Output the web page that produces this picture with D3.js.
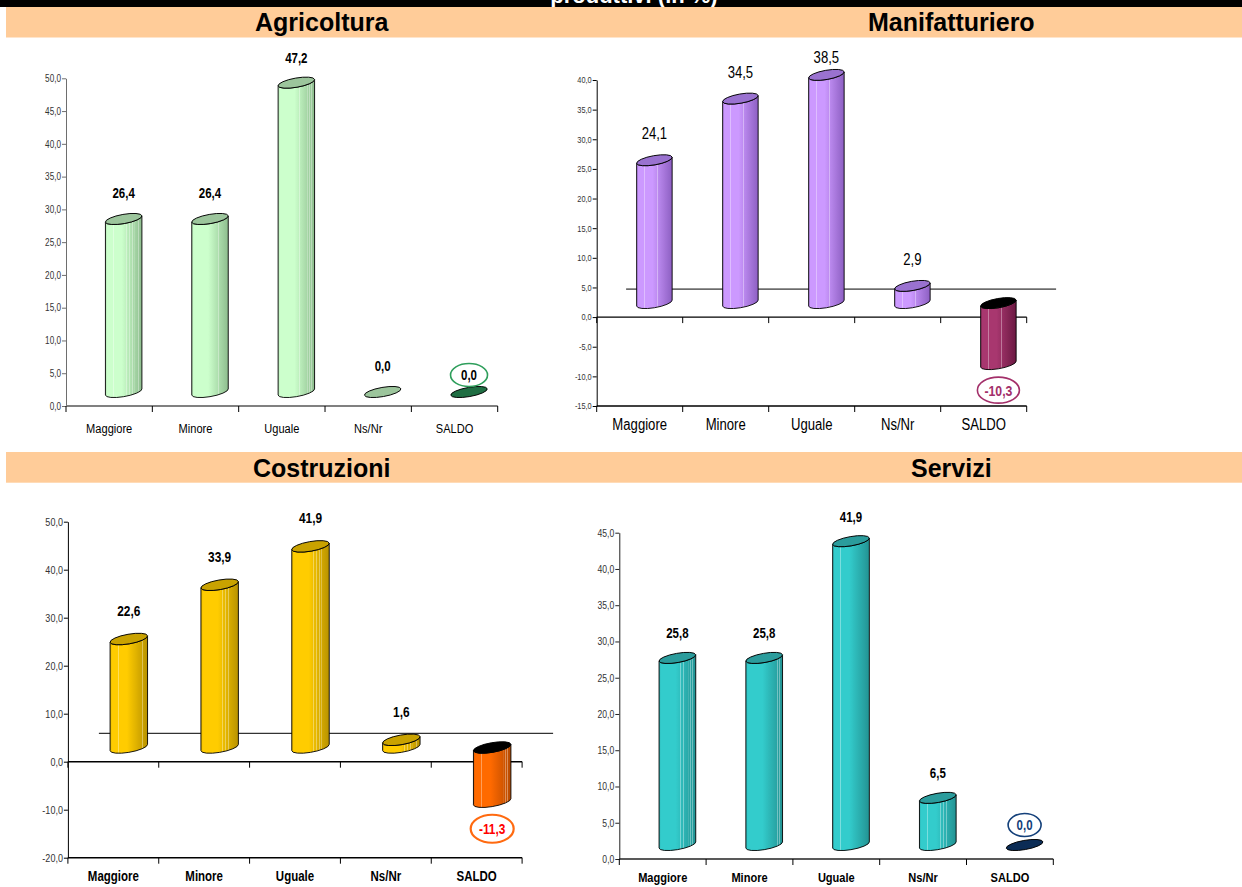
<!DOCTYPE html>
<html>
<head>
<meta charset="utf-8">
<script src="https://cdn.jsdelivr.net/npm/d3@7"></script>
<style>
  html, body { margin: 0; padding: 0; background: #fff; }
  svg { display: block; }
</style>
</head>
<body>
<svg id="chart" width="1242" height="887"></svg>
<script>
// ---- data ----
const categories = ["Maggiore", "Minore", "Uguale", "Ns/Nr", "SALDO"];
const sectorTitles = ["Agricoltura", "Manifatturiero", "Costruzioni", "Servizi"];
const agricoltura = [26.4, 26.4, 47.2, 0.0, 0.0];
const manifatturiero = [24.1, 34.5, 38.5, 2.9, -10.3];
const costruzioni = [22.6, 33.9, 41.9, 1.6, -11.3];
const servizi = [25.8, 25.8, 41.9, 6.5, 0.0];
const ticksAgricoltura = [0, 5, 10, 15, 20, 25, 30, 35, 40, 45, 50];
const ticksManifatturiero = [-15, -10, -5, 0, 5, 10, 15, 20, 25, 30, 35, 40];
const ticksCostruzioni = [-20, -10, 0, 10, 20, 30, 40, 50];
const ticksServizi = [0, 5, 10, 15, 20, 25, 30, 35, 40, 45];
const headerText = "produttivi (in %)";

// ---- fonts & helpers ----
const FONT = "'Liberation Sans', Arial, Helvetica, sans-serif";
const SQUEEZE = 0.82; // condensed look for chart labels
const fmt = v => d3.format(".1f")(v).replace(".", ",").replace("−", "-");

// squeeze text horizontally while keeping its anchor position
function condense(sel) {
  sel.each(function () {
    const t = d3.select(this);
    const x = +t.attr("x") || 0;
    t.attr("x", x / SQUEEZE).attr("transform", `scale(${SQUEEZE},1)`);
  });
  return sel;
}

const svg = d3.select("#chart");
const defs = svg.append("defs");
svg.append("rect").attr("width", 1242).attr("height", 887).attr("fill", "#fff");

// ---- header bands ----
svg.append("rect").attr("x", 0).attr("y", 0).attr("width", 1242).attr("height", 7).attr("fill", "#000");
svg.append("text").attr("x", 634).attr("y", 3)
  .attr("text-anchor", "middle").attr("font-family", FONT).attr("font-weight", "bold")
  .attr("font-size", 22).attr("fill", "#fff").text(headerText);

const bands = [
  { y: 7, h: 30.5, titles: [0, 1], baseline: 30.7 },
  { y: 452, h: 30.7, titles: [2, 3], baseline: 476.7 }
];
const titleX = [321.7, 951.3];
bands.forEach(b => {
  svg.append("rect").attr("x", 6).attr("y", b.y).attr("width", 1236).attr("height", b.h).attr("fill", "#ffcc99");
  b.titles.forEach((ti, k) => {
    svg.append("text").attr("x", titleX[k]).attr("y", b.baseline)
      .attr("text-anchor", "middle").attr("font-family", FONT).attr("font-weight", "bold")
      .attr("font-size", 25).attr("fill", "#000").text(sectorTitles[ti]);
  });
});

// ---- cylinder gradients ----
let gradCount = 0;
function bodyGradient(light, dark) {
  const id = "cyl" + (gradCount++);
  const base = t => {
    if (t < 0.04) return d3.interpolateRgb(dark, light)(0.55 + t / 0.04 * 0.45);
    if (t < 0.45) return d3.color(light).formatHex();
    return d3.interpolateRgb(light, dark)((t - 0.45) / 0.55);
  };
  const stripes = [0.22, 0.58, 0.66, 0.74, 0.8, 0.86, 0.91];
  const stops = [];
  d3.range(0, 1.0001, 0.05).forEach(t => stops.push([t, base(t)]));
  stripes.forEach(p => {
    const w = 0.008;
    const hi = d3.interpolateRgb(base(p), "#ffffff")(0.35);
    stops.push([p - w, base(p - w)], [p - w + 0.0001, hi], [p + w, hi], [p + w + 0.0001, base(p + w)]);
  });
  stops.sort((a, b) => a[0] - b[0]);
  const lg = defs.append("linearGradient").attr("id", id)
    .attr("x1", 0).attr("x2", 1).attr("y1", 0).attr("y2", 0);
  stops.forEach(s => lg.append("stop").attr("offset", s[0]).attr("stop-color", s[1]));
  return "url(#" + id + ")";
}

// extreme left/right points of a rotated ellipse
function ellipseExtremes(rx, ry, deg) {
  const a = deg * Math.PI / 180;
  let L = null, R = null;
  for (let i = 0; i < 720; i++) {
    const t = i / 720 * 2 * Math.PI;
    const px = rx * Math.cos(t), py = ry * Math.sin(t);
    const p = { x: px * Math.cos(a) - py * Math.sin(a), y: px * Math.sin(a) + py * Math.cos(a) };
    if (!L || p.x < L.x) L = p;
    if (!R || p.x > R.x) R = p;
  }
  return { L, R };
}

function cylinder(g, cx, yTopC, yBotC, st, bodyFill, topFill) {
  const { rx, ry, rot } = st;
  const { L, R } = ellipseExtremes(rx, ry, rot);
  if (yBotC - yTopC > 0.5) {
    const d = `M${cx + L.x},${yTopC + L.y} L${cx + L.x},${yBotC + L.y} ` +
      `A${rx},${ry} ${rot} 0 0 ${cx + R.x},${yBotC + R.y} ` +
      `L${cx + R.x},${yTopC + R.y} ` +
      `A${rx},${ry} ${rot} 0 1 ${cx + L.x},${yTopC + L.y} Z`;
    g.append("path").attr("d", d).attr("fill", bodyFill)
      .attr("stroke", "#000").attr("stroke-width", 0.9).attr("stroke-linejoin", "round");
  }
  g.append("ellipse").attr("cx", 0).attr("cy", 0).attr("rx", rx).attr("ry", ry)
    .attr("transform", `translate(${cx},${yTopC}) rotate(${rot})`)
    .attr("fill", topFill).attr("stroke", "#000").attr("stroke-width", 0.9);
}

// ---- panel layout & styles ----
const panels = [
  {
    values: agricoltura, ticks: ticksAgricoltura, domain: [0, 50],
    x0: 66, x1: 497.7, yMin: 406, yMax: 78.3,
    axisColor: "#808080", axisWidth: 2, yAxisColor: "#6e6e6e",
    tickFont: 10, catFont: 13.5, catWeight: "normal", catBaseline: 433.3,
    valFont: 14, valWeight: "bold", labelGap: 21, labelTop: 63,
    depth: { dx: 14.5, dy: 14 }, backLine: false,
    cyl: { rx: 18.5, ry: 4.6, rot: -10 },
    light: "#ccffcc", dark: "#8ebd8e", top: "#9cc59c",
    saldo: { light: "#1f6e43", dark: "#1f6e43", top: "#1f6e43", ring: "#2e9e5b", text: "#000", ringRx: 18.5, ringRy: 11.5, ringGap: 17, ringWidth: 1.6 }
  },
  {
    values: manifatturiero, ticks: ticksManifatturiero, domain: [-15, 40],
    x0: 596.7, x1: 1026.7, yMin: 406, yMax: 80,
    axisColor: "#000", axisWidth: 1.4, yAxisColor: "#000",
    tickFont: 9, catFont: 16, catWeight: "normal", catBaseline: 430,
    valFont: 16, valWeight: "normal", labelGap: 21, labelTop: 63.3,
    depth: { dx: 14.7, dy: 14 }, backLine: true,
    cyl: { rx: 18, ry: 4.6, rot: -10 },
    light: "#cc99ff", dark: "#8d5fc2", top: "#9a72d0",
    saldo: { light: "#a8376f", dark: "#6b1942", top: "#000", ring: "#a3306a", text: "#a3306a", ringRx: 21, ringRy: 13, ringGap: 26, ringWidth: 1.6 }
  },
  {
    values: costruzioni, ticks: ticksCostruzioni, domain: [-20, 50],
    x0: 67.9, x1: 522.1, yMin: 857.7, yMax: 521.7,
    axisColor: "#000", axisWidth: 1.4, yAxisColor: "#000",
    tickFont: 11, catFont: 14, catWeight: "bold", catBaseline: 880.7,
    valFont: 14.5, valWeight: "bold", labelGap: 23, labelTop: 523,
    depth: { dx: 15.5, dy: 14.2 }, backLine: true,
    cyl: { rx: 19, ry: 4.8, rot: -10 },
    light: "#ffcc00", dark: "#b89200", top: "#c9a200",
    saldo: { light: "#ff6a00", dark: "#b84a00", top: "#000", ring: "#ff6a10", text: "#ff0000", ringRx: 21.5, ringRy: 14, ringGap: 27, ringWidth: 2.2 }
  },
  {
    values: servizi, ticks: ticksServizi, domain: [0, 45],
    x0: 619.3, x1: 1053.3, yMin: 859, yMax: 532.7,
    axisColor: "#222", axisWidth: 1.4, yAxisColor: "#222",
    tickFont: 10.5, catFont: 13.5, catWeight: "bold", catBaseline: 881.7,
    valFont: 14, valWeight: "bold", labelGap: 20, labelTop: 522,
    depth: { dx: 14.7, dy: 14 }, backLine: false,
    cyl: { rx: 18.6, ry: 4.6, rot: -10 },
    light: "#33cccc", dark: "#239393", top: "#2b9c9c",
    saldo: { light: "#0b2c55", dark: "#0b2c55", top: "#0b2c55", ring: "#14407a", text: "#14407a", ringRx: 16.5, ringRy: 11.5, ringGap: 20, ringWidth: 1.6 }
  }
];

function drawPanel(P) {
  const g = svg.append("g");
  const x = d3.scaleBand().domain(categories).range([P.x0, P.x1]).padding(0);
  const y = d3.scaleLinear().domain(P.domain).range([P.yMin, P.yMax]);
  const { dx, dy } = P.depth;

  // floor back edge
  if (P.backLine) {
    g.append("line").attr("x1", P.x0 + 2 * dx).attr("x2", P.x1 + 2 * dx)
      .attr("y1", y(0) - 2 * dy).attr("y2", y(0) - 2 * dy)
      .attr("stroke", "#000").attr("stroke-width", 1);
  }

  // value axis
  const yAxis = d3.axisLeft(y).tickValues(P.ticks).tickFormat(fmt).tickSize(4).tickSizeOuter(0).tickPadding(1);
  const ya = g.append("g").attr("transform", `translate(${P.x0},0)`).call(yAxis);
  ya.select(".domain").attr("stroke", P.yAxisColor).attr("stroke-width", 1);
  ya.selectAll(".tick line").attr("stroke", P.yAxisColor);
  condense(ya.selectAll(".tick text").attr("font-family", FONT).attr("font-size", P.tickFont).attr("fill", "#333"));

  // category axis lines (at zero and at the bottom of the range)
  const boundaries = categories.map(c => x(c)).concat([P.x1]);
  const axisLevels = [0];
  if (P.domain[0] < 0) axisLevels.push(P.domain[0]);
  axisLevels.forEach(v => {
    g.append("line").attr("x1", P.x0).attr("x2", P.x1).attr("y1", y(v)).attr("y2", y(v))
      .attr("stroke", v === 0 && P.domain[0] === 0 ? P.axisColor : "#000")
      .attr("stroke-width", P.axisWidth);
    g.selectAll(null).data(boundaries).enter().append("line")
      .attr("x1", d => d).attr("x2", d => d)
      .attr("y1", y(v)).attr("y2", y(v) + 6)
      .attr("stroke", "#000").attr("stroke-width", 1);
  });

  // category labels
  const xa = d3.axisBottom(x).tickSize(0).tickPadding(0);
  const xg = g.append("g").attr("transform", `translate(0,${P.catBaseline})`).call(xa);
  xg.select(".domain").remove();
  condense(xg.selectAll(".tick text").attr("dy", 0).attr("y", 0)
    .attr("font-family", FONT).attr("font-size", P.catFont)
    .attr("font-weight", P.catWeight).attr("fill", "#000"));

  // cylinders
  const bodyFill = bodyGradient(P.light, P.dark);
  const saldoFill = bodyGradient(P.saldo.light, P.saldo.dark);
  P.values.forEach((v, i) => {
    const isSaldo = categories[i] === "SALDO";
    const cx = x(categories[i]) + x.bandwidth() / 2 + dx;
    const yTopC = Math.min(y(v), y(0)) - dy;
    const yBotC = Math.max(y(v), y(0)) - dy;
    const fill = isSaldo ? saldoFill : bodyFill;
    const top = isSaldo ? P.saldo.top : P.top;
    cylinder(g, cx, yTopC, yBotC, P.cyl, fill, top);

    if (isSaldo) {
      const cy = v < 0 ? yBotC + P.saldo.ringGap : yTopC - P.saldo.ringGap;
      g.append("ellipse").attr("cx", cx).attr("cy", cy)
        .attr("rx", P.saldo.ringRx).attr("ry", P.saldo.ringRy)
        .attr("fill", "#fff").attr("stroke", P.saldo.ring).attr("stroke-width", P.saldo.ringWidth);
      condense(g.append("text").attr("x", cx).attr("y", cy).attr("dy", "0.36em")
        .attr("text-anchor", "middle").attr("font-family", FONT)
        .attr("font-weight", "bold").attr("font-size", P.valWeight === "bold" ? P.valFont : P.valFont - 1)
        .attr("fill", P.saldo.text).text(fmt(v)));
    } else {
      const base = Math.max(yTopC - P.labelGap, P.labelTop);
      condense(g.append("text").attr("x", cx).attr("y", base)
        .attr("text-anchor", "middle").attr("font-family", FONT)
        .attr("font-weight", P.valWeight).attr("font-size", P.valFont)
        .attr("fill", "#000").text(fmt(v)));
    }
  });
}

panels.forEach(drawPanel);
</script>
</body>
</html>
